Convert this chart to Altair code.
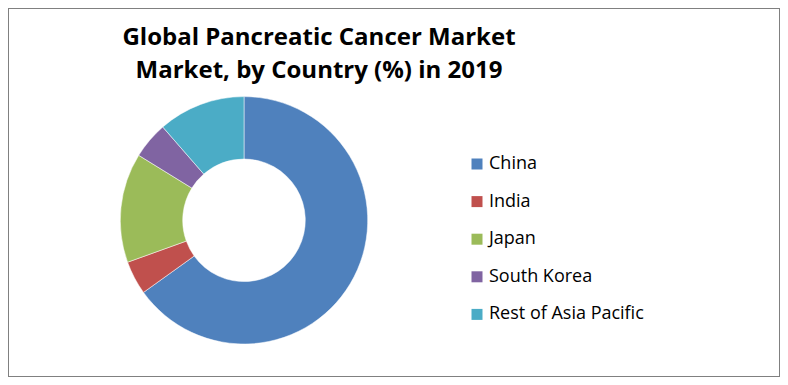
import altair as alt
import pandas as pd

countries = ["China", "India", "Japan", "South Korea", "Rest of Asia Pacific"]
shares = [65.1, 4.4, 14.3, 4.8, 11.4]
colors = ["#4F81BD", "#C0504D", "#9BBB59", "#8064A2", "#4BACC6"]
title_lines = ["Global Pancreatic Cancer Market", "Market, by Country (%) in 2019"]

df = pd.DataFrame({"country": countries, "share": shares, "idx": list(range(len(countries)))})
tdf = pd.DataFrame({"k": [0]})

legend_fs = 18

pie = alt.Chart(df).mark_arc(
    outerRadius=123.7, innerRadius=61.3, stroke="white", strokeWidth=0.5
).encode(
    theta=alt.Theta("share:Q", stack=True),
    color=alt.Color(
        "country:N",
        scale=alt.Scale(domain=countries, range=colors),
        sort=countries,
        legend=alt.Legend(
            title=None,
            orient="none",
            legendX=460,
            legendY=147,
            symbolType="square",
            symbolSize=121,
            symbolStrokeWidth=0,
            labelFont="Open Sans",
            labelFontSize=legend_fs,
            labelColor="#000000",
            labelOffset=3,
            rowPadding=37.6 - legend_fs,
            padding=0,
            labelLimit=300,
        ),
    ),
    order=alt.Order("idx:Q"),
    x=alt.value(236),
    y=alt.value(212.3),
)

title = alt.Chart(tdf).mark_text(
    font="Open Sans", fontWeight="bold", fontSize=24, align="center",
    baseline="alphabetic", lineHeight=33.3, color="#000000"
).encode(
    text=alt.value(title_lines),
    x=alt.value(311),
    y=alt.value(37),
)

chart = alt.layer(pie, title).properties(
    width=772, height=369, autosize="none", padding=0
).configure_view(stroke="#808080", strokeWidth=2)

chart.save("out.html", embed_options={"renderer": "svg", "actions": False})
